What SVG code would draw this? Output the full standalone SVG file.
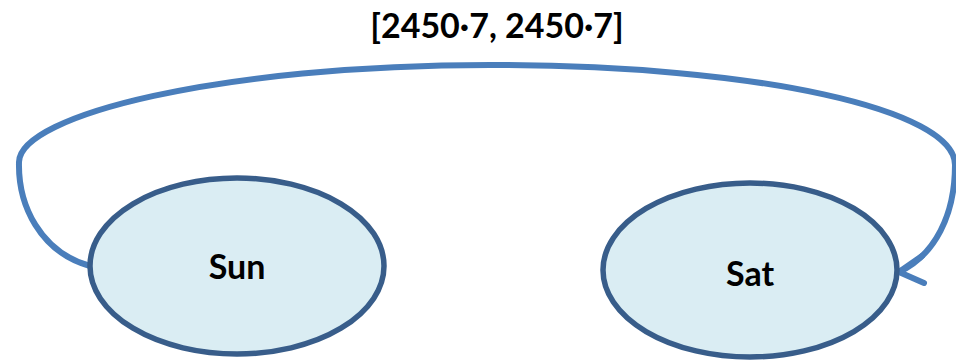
<svg xmlns="http://www.w3.org/2000/svg" width="956" height="360" viewBox="0 0 956 360">
<style>
.node ellipse{fill:#daedf3;stroke:#385d8a;stroke-width:5.5}
.node text{font-family:Lato,"Liberation Sans",sans-serif;font-weight:bold;font-size:34px;fill:#000;text-anchor:middle}
.edge{fill:none;stroke:#4a7ebb;stroke-width:6;stroke-linecap:round;stroke-linejoin:round}
.lbl{font-family:Lato,"Liberation Sans",sans-serif;font-weight:bold;font-size:34px;fill:#000;text-anchor:middle}
</style>
<g id="connectors">
<path class="edge" d="M 90 266 C 40 252, 18 205, 19 162 C 20 115, 220 65, 490 65 C 760 65, 955 110, 955 165 C 955 215, 935 255, 899 272"/>
<path class="edge" d="M 922 256 L 899 272 L 924 283"/>
<text class="lbl" x="497" y="38">[2450·7, 2450·7]</text>
</g>
<g id="sun" class="node">
<ellipse cx="237" cy="266" rx="147" ry="88"/>
<text x="237" y="279">Sun</text>
</g>
<g id="sat" class="node">
<ellipse cx="750" cy="270" rx="147" ry="87"/>
<text x="750" y="286">Sat</text>
</g>
</svg>
